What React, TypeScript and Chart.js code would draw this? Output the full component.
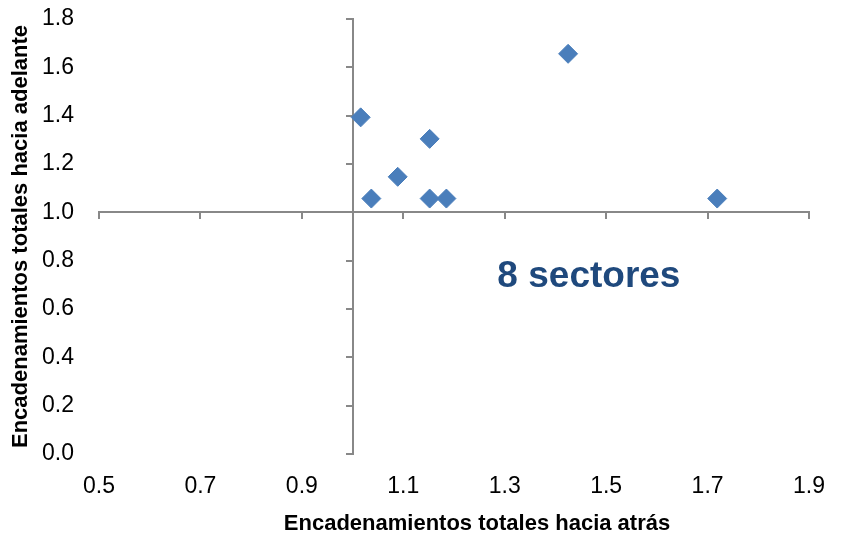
import React, { useEffect, useRef } from 'react';
import { Chart, registerables } from 'chart.js';

Chart.register(...registerables);

// Data
const backwardLinkages = [1.016, 1.037, 1.089, 1.152, 1.152, 1.185, 1.425, 1.719];
const forwardLinkages = [1.393, 1.057, 1.147, 1.304, 1.057, 1.057, 1.656, 1.057];
const xTickValues = [0.5, 0.7, 0.9, 1.1, 1.3, 1.5, 1.7, 1.9];
const yTickValues = [0.0, 0.2, 0.4, 0.6, 0.8, 1.0, 1.2, 1.4, 1.6, 1.8];
const crossAt = [1.0, 1.0];
const xTitle = 'Encadenamientos totales hacia atrás';
const yTitle = 'Encadenamientos totales hacia adelante';
const noteText = '8 sectores';
const notePosition = [1.466, 0.735];

const FONT = "'Liberation Sans', Arial, sans-serif";
const AXIS_COLOR = '#888888';
const POINT_COLOR = '#4A7EBB';

const crossAxesPlugin = {
  id: 'crossAxes',
  beforeDatasetsDraw(chart: any) {
    const { ctx } = chart;
    const xs = chart.scales.x;
    const ys = chart.scales.y;
    const x0 = Math.round(xs.getPixelForValue(crossAt[0]));
    const y0 = Math.round(ys.getPixelForValue(crossAt[1]));
    const tick = 7;
    ctx.save();
    ctx.strokeStyle = AXIS_COLOR;
    ctx.lineWidth = 2;
    ctx.lineCap = 'butt';
    ctx.beginPath();
    // horizontal axis
    ctx.moveTo(xs.getPixelForValue(xs.min) - 1, y0);
    ctx.lineTo(xs.getPixelForValue(xs.max) + 1, y0);
    // vertical axis
    ctx.moveTo(x0, ys.getPixelForValue(ys.max) - 1);
    ctx.lineTo(x0, ys.getPixelForValue(ys.min) + 1);
    // x tick marks (below the horizontal axis)
    xTickValues.forEach((v) => {
      const px = Math.round(xs.getPixelForValue(v));
      ctx.moveTo(px, y0);
      ctx.lineTo(px, y0 + tick);
    });
    // y tick marks (left of the vertical axis)
    yTickValues.forEach((v) => {
      const py = Math.round(ys.getPixelForValue(v));
      ctx.moveTo(x0, py);
      ctx.lineTo(x0 - tick, py);
    });
    ctx.stroke();
    ctx.restore();
  },
  afterDatasetsDraw(chart: any) {
    const { ctx } = chart;
    const xs = chart.scales.x;
    const ys = chart.scales.y;
    ctx.save();
    // annotation
    ctx.fillStyle = '#1F497D';
    ctx.font = `bold 37px ${FONT}`;
    ctx.textAlign = 'center';
    ctx.textBaseline = 'middle';
    ctx.fillText(noteText, xs.getPixelForValue(notePosition[0]), ys.getPixelForValue(notePosition[1]));
    // x-axis title
    ctx.fillStyle = '#000000';
    ctx.font = `bold 22px ${FONT}`;
    ctx.fillText(xTitle, 477, 524);
    ctx.restore();
  },
};

export default function App() {
  const canvasRef = useRef<HTMLCanvasElement | null>(null);

  useEffect(() => {
    if (!canvasRef.current) return;
    const chart = new Chart(canvasRef.current, {
      type: 'scatter',
      data: {
        datasets: [
          {
            data: backwardLinkages.map((x, i) => ({ x, y: forwardLinkages[i] })),
            pointStyle: 'rectRot',
            pointRadius: 9.5,
            pointHoverRadius: 9.5,
            backgroundColor: POINT_COLOR,
            borderColor: POINT_COLOR,
            borderWidth: 1,
          },
        ],
      },
      options: {
        responsive: false,
        animation: false,
        layout: { padding: { top: 19, right: 41, left: 0, bottom: 0 } },
        plugins: {
          legend: { display: false },
          tooltip: { enabled: false },
        },
        scales: {
          x: {
            type: 'linear',
            min: 0.5,
            max: 1.9,
            afterBuildTicks: (s: any) => {
              s.ticks = xTickValues.map((value) => ({ value }));
            },
            afterFit: (s: any) => {
              s.height = 84;
              s.paddingLeft = 0;
              s.paddingRight = 0;
            },
            grid: { display: false, drawTicks: false },
            border: { display: false },
            ticks: {
              padding: 19,
              color: '#000000',
              font: { family: FONT, size: 23 },
              maxRotation: 0,
              callback: (v: any) => Number(v).toFixed(1),
            },
            title: { display: false },
          },
          y: {
            type: 'linear',
            min: 0,
            max: 1.8,
            afterBuildTicks: (s: any) => {
              s.ticks = yTickValues.map((value) => ({ value }));
            },
            afterFit: (s: any) => {
              s.width = 99;
              s.paddingTop = 0;
              s.paddingBottom = 0;
            },
            grid: { display: false, drawTicks: false },
            border: { display: false },
            ticks: {
              padding: 25,
              color: '#000000',
              font: { family: FONT, size: 23 },
              callback: (v: any) => Number(v).toFixed(1),
            },
            title: {
              display: true,
              text: yTitle,
              color: '#000000',
              font: { family: FONT, size: 22, weight: 'bold' },
              padding: { top: 8, bottom: 0 },
            },
          },
        },
      },
      plugins: [crossAxesPlugin],
    });
    return () => chart.destroy();
  }, []);

  return (
    <div style={{ position: 'fixed', left: 0, top: 0, width: 850, height: 538, background: '#ffffff' }}>
      <canvas ref={canvasRef} width={850} height={538} />
    </div>
  );
}
